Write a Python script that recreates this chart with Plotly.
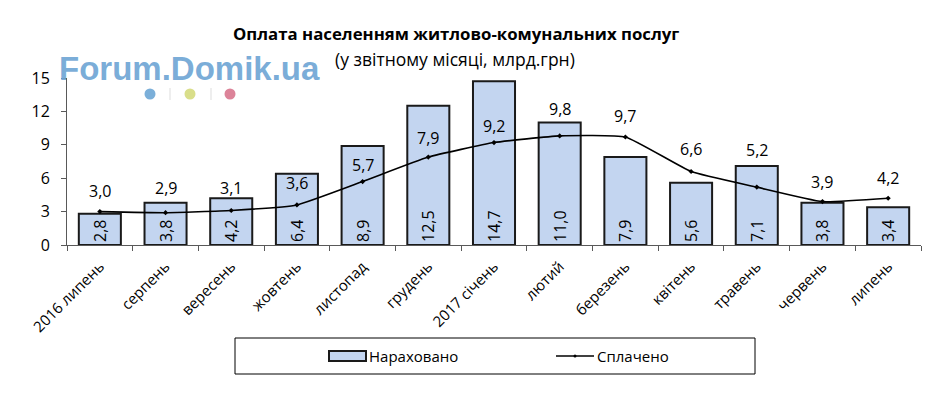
import plotly.graph_objects as go

categories = ["2016 липень", "серпень", "вересень", "жовтень", "листопад", "грудень",
              "2017 січень", "лютий", "березень", "квітень", "травень", "червень", "липень"]
accrued = [2.8, 3.8, 4.2, 6.4, 8.9, 12.5, 14.7, 11.0, 7.9, 5.6, 7.1, 3.8, 3.4]
paid = [3.0, 2.9, 3.1, 3.6, 5.7, 7.9, 9.2, 9.8, 9.7, 6.6, 5.2, 3.9, 4.2]

# pixel offsets of the "paid" data labels above their points (style, not data)
label_shift = [21, 25, 22, 22, 17, 19, 17, 27, 21, 23, 37, 20, 20]

def fmt(v):
    return f"{v:.1f}".replace(".", ",")

FONT = "Open Sans"
BAR_FILL = "#C3D5F0"

# plot area in page pixels
PX0, PX1, PY0, PY1 = 67, 921, 78, 245
OFF = 8          # page body margin
W, H = 943 - OFF, 395 - OFF

def px(x):
    return (x - PX0) / (PX1 - PX0)

def py(y):
    return (PY1 - y) / (PY1 - PY0)

fig = go.Figure()
fig.add_trace(go.Bar(
    x=categories, y=accrued, name="Нараховано", showlegend=False,
    marker=dict(color=BAR_FILL, line=dict(color="#1a1a1a", width=2)),
    text=[fmt(v) for v in accrued], textposition="inside", insidetextanchor="start",
    textangle=-90, textfont=dict(size=16, color="#000000", family=FONT),
    cliponaxis=False,
))
fig.add_trace(go.Scatter(
    x=categories, y=paid, name="Сплачено", mode="lines+markers", showlegend=False,
    line=dict(color="#000000", width=1.6, shape="spline", smoothing=0.4),
    marker=dict(color="#000000", size=4, symbol="diamond"),
    cliponaxis=False,
))

ann = []
for c, v, s in zip(categories, paid, label_shift):
    ann.append(dict(x=c, y=v, xref="x", yref="y", text=fmt(v), showarrow=False,
                    yshift=s, xanchor="center", yanchor="middle",
                    font=dict(size=16, family=FONT, color="#000000")))

def pann(text, x, y, font, xanchor="center"):
    ann.append(dict(text=text, xref="paper", yref="paper", x=px(x), y=py(y),
                    xanchor=xanchor, yanchor="middle", showarrow=False, font=font))

pann("<b>Оплата населенням житлово-комунальних послуг</b>", 456, 33,
     dict(size=16.8, family=FONT, color="#000000"))
pann("(у звітному місяці, млрд.грн)", 455, 59, dict(size=17.5, family=FONT, color="#000000"))
pann("<b>Forum.Domik.ua</b>", 189, 69,
     dict(size=33, family="Liberation Sans", color="rgba(110,165,212,0.92)"))
# legend texts
pann("Нараховано", 367, 356, dict(size=15, family=FONT, color="#000000"), xanchor="left")
pann("Сплачено", 595, 356, dict(size=15, family=FONT, color="#000000"), xanchor="left")

shapes = []
def pshape(kind, x0, y0, x1, y1, **kw):
    d = dict(type=kind, xref="paper", yref="paper", x0=px(x0), x1=px(x1),
             y0=py(y0), y1=py(y1))
    d.update(kw)
    shapes.append(d)

# watermark dots and separators
for cx, col in [(150, "#7BAFD9"), (190, "#D9DE8A"), (230, "#DC8399")]:
    pshape("circle", cx - 5.5, 88.5, cx + 5.5, 99.5, fillcolor=col, line=dict(width=0))
for lx in (170, 211):
    pshape("line", lx, 88, lx, 100, line=dict(color="#dddddd", width=1))

# legend box + symbols
pshape("rect", 235, 338, 755, 374, line=dict(color="#000000", width=1),
       fillcolor="rgba(0,0,0,0)")
pshape("rect", 329, 351, 366, 361, line=dict(color="#1a1a1a", width=2), fillcolor=BAR_FILL)
pshape("line", 556, 356, 594, 356, line=dict(color="#000000", width=1.6))
pshape("circle", 573.5, 354.5, 576.5, 357.5, fillcolor="#000000", line=dict(width=0))

fig.update_layout(
    width=W, height=H,
    margin=dict(l=PX0 - OFF, r=W - (PX1 - OFF), t=PY0 - OFF, b=H - (PY1 - OFF)),
    paper_bgcolor="#ffffff", plot_bgcolor="#ffffff",
    bargap=0.36,
    showlegend=False,
    uniformtext=dict(minsize=16, mode="show"),
    annotations=ann,
    shapes=shapes,
    font=dict(family=FONT, color="#000000"),
)
fig.update_xaxes(type="category", range=[-0.5, len(categories) - 0.5], autorange=False,
                 automargin=False, tickson="boundaries", ticks="outside", ticklen=5,
                 tickcolor="#595959", showline=True, linecolor="#595959", linewidth=1,
                 tickangle=-45, ticklabelstandoff=6,
                 tickfont=dict(size=15, family=FONT, color="#000000"),
                 showgrid=False)
fig.update_yaxes(range=[0, 15], autorange=False, automargin=False, dtick=3,
                 ticks="outside", ticklen=5, tickcolor="#595959",
                 showline=True, linecolor="#595959", linewidth=1, showgrid=False,
                 zeroline=False, ticklabelstandoff=8,
                 tickfont=dict(size=16, family=FONT, color="#000000"))

fig.write_html("out.html")
